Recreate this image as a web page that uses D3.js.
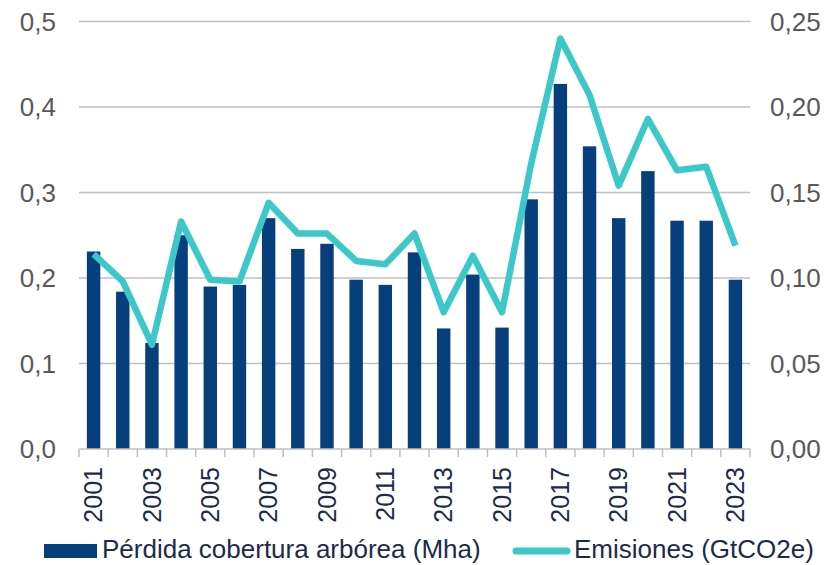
<!DOCTYPE html>
<html lang="es">
  <head>
    <meta charset="UTF-8" />
    <title>Pérdida de cobertura arbórea y emisiones</title>
    <style>
      body {
        margin: 0;
        background: #fff;
      }

      text {
        font-family: "Liberation Sans", Arial, sans-serif;
      }

      .grid line {
        stroke: #bfbfbf;
        stroke-width: 1.5px;
      }

      .bar {
        fill: #063f7c;
      }

      .emis-line {
        fill: none;
        stroke: #3cc8c8;
        stroke-width: 6.5px;
        stroke-linejoin: round;
      }

      .y-label {
        fill: #595959;
        font-size: 26px;
      }

      .x-label {
        fill: #1c2b4a;
        font-size: 25px;
      }

      .legend text {
        fill: #1c2b4a;
        font-size: 26px;
      }
    </style>
  </head>

  <body>
    <script src="https://cdn.jsdelivr.net/npm/d3@7"></script>
    <script>

      // data
      var years = ["2001","2002","2003","2004","2005","2006","2007","2008","2009","2010","2011","2012",
                   "2013","2014","2015","2016","2017","2018","2019","2020","2021","2022","2023"];

      // tree cover loss, Mha (left axis)
      var perdida = [0.231, 0.184, 0.124, 0.250, 0.190, 0.192, 0.270, 0.234, 0.240, 0.198, 0.192, 0.230,
                     0.141, 0.204, 0.142, 0.292, 0.427, 0.354, 0.270, 0.325, 0.267, 0.267, 0.198];

      // emissions, GtCO2e (right axis)
      var emisiones = [0.114, 0.098, 0.061, 0.133, 0.099, 0.098, 0.144, 0.126, 0.126, 0.110, 0.108, 0.126,
                       0.080, 0.113, 0.080, 0.167, 0.240, 0.207, 0.154, 0.193, 0.163, 0.165, 0.119];

      var leftTicks = [0, 0.1, 0.2, 0.3, 0.4, 0.5];
      var rightTicks = [0, 0.05, 0.10, 0.15, 0.20, 0.25];

      var w = 831,
          h = 565;

      var plot = { left: 79, right: 750, top: 21.5, bottom: 449 };

      var svg = d3.select("body").append("svg")
        .attr("width", w)
        .attr("height", h);

      var xScale = d3.scaleBand()
        .domain(years)
        .range([plot.left, plot.right])
        .padding(0);

      var yLeft = d3.scaleLinear()
        .domain([0, 0.5])
        .range([plot.bottom, plot.top]);

      var yRight = d3.scaleLinear()
        .domain([0, 0.25])
        .range([plot.bottom, plot.top]);

      var comma = function(digits) {
        return function(d) { return d.toFixed(digits).replace(".", ","); };
      };

      // gridlines
      svg.append("g")
        .attr("class", "grid")
        .selectAll("line")
        .data(leftTicks.slice(1))
        .enter()
        .append("line")
        .attr("x1", plot.left)
        .attr("x2", plot.right)
        .attr("y1", function(d) { return yLeft(d); })
        .attr("y2", function(d) { return yLeft(d); });

      // bars
      var bw = xScale.bandwidth() * 0.46;

      svg.selectAll(".bar")
        .data(perdida)
        .enter()
        .append("rect")
        .attr("class", "bar")
        .attr("x", function(d, i) { return xScale(years[i]) + (xScale.bandwidth() - bw) / 2; })
        .attr("y", function(d) { return yLeft(d); })
        .attr("width", bw)
        .attr("height", function(d) { return plot.bottom - yLeft(d); });

      // x axis (ticks between categories)
      var axis = svg.append("g").attr("class", "grid");

      axis.append("line")
        .attr("x1", plot.left)
        .attr("x2", plot.right)
        .attr("y1", plot.bottom)
        .attr("y2", plot.bottom);

      axis.selectAll(".tick")
        .data(years.concat(["end"]))
        .enter()
        .append("line")
        .attr("x1", function(d, i) { return plot.left + i * xScale.step(); })
        .attr("x2", function(d, i) { return plot.left + i * xScale.step(); })
        .attr("y1", plot.bottom)
        .attr("y2", plot.bottom + 8);

      svg.selectAll(".x-label")
        .data(years.filter(function(d, i) { return i % 2 == 0; }))
        .enter()
        .append("text")
        .attr("class", "x-label")
        .attr("text-anchor", "end")
        .attr("transform", function(d) {
          return "translate(" + (xScale(d) + xScale.bandwidth() / 2) + "," + (plot.bottom + 18) + ") rotate(-90)";
        })
        .attr("dy", "0.35em")
        .text(function(d) { return d; });

      // emissions line
      var line = d3.line()
        .x(function(d, i) { return xScale(years[i]) + xScale.bandwidth() / 2; })
        .y(function(d) { return yRight(d); });

      svg.append("path")
        .datum(emisiones)
        .attr("class", "emis-line")
        .attr("d", line);

      // y labels
      svg.selectAll(".y-left")
        .data(leftTicks)
        .enter()
        .append("text")
        .attr("class", "y-label")
        .attr("text-anchor", "end")
        .attr("x", 56)
        .attr("y", function(d) { return yLeft(d); })
        .attr("dy", "0.35em")
        .text(comma(1));

      svg.selectAll(".y-right")
        .data(rightTicks)
        .enter()
        .append("text")
        .attr("class", "y-label")
        .attr("x", 770)
        .attr("y", function(d) { return yRight(d); })
        .attr("dy", "0.35em")
        .text(comma(2));

      // legend
      var legend = svg.append("g").attr("class", "legend");

      legend.append("rect")
        .attr("x", 44)
        .attr("y", 544)
        .attr("width", 53)
        .attr("height", 14)
        .attr("fill", "#063f7c");

      legend.append("text")
        .attr("x", 102)
        .attr("y", 558)
        .text("Pérdida cobertura arbórea (Mha)");

      legend.append("line")
        .attr("x1", 516)
        .attr("x2", 567)
        .attr("y1", 551)
        .attr("y2", 551)
        .attr("stroke", "#3cc8c8")
        .attr("stroke-width", 7)
        .attr("stroke-linecap", "round");

      legend.append("text")
        .attr("x", 574)
        .attr("y", 558)
        .text("Emisiones (GtCO2e)");

    </script>
  </body>
</html>
